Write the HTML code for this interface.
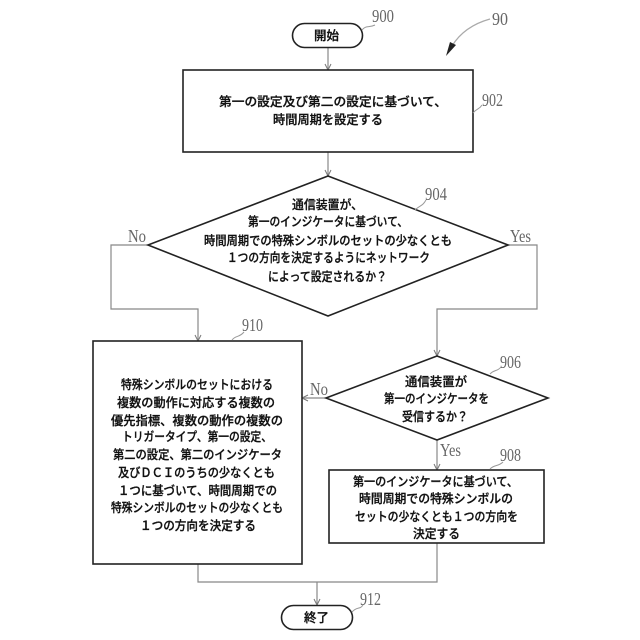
<!DOCTYPE html>
<html lang="ja">
<head>
<meta charset="utf-8">
<style>
html,body{margin:0;padding:0;background:#fff;width:640px;height:640px;overflow:hidden}
svg{display:block}
.t{font-family:"Liberation Sans","Noto Sans CJK JP",sans-serif;font-size:12.5px;font-weight:500;fill:#111;stroke:#111;stroke-width:.3}
.n{font-family:"Liberation Serif",serif;font-size:18px;fill:#666}
.box{fill:#fff;stroke:#222;stroke-width:1.6}
.c{fill:none;stroke:#888;stroke-width:1.2}
.a{fill:none;stroke:#777;stroke-width:1}
.s{fill:none;stroke:#999;stroke-width:1}
</style>
</head>
<body>
<svg width="640" height="640" viewBox="0 0 640 640" xmlns="http://www.w3.org/2000/svg">
<!-- connectors -->
<path class="c" d="M328 47V70M328 152V176M508 245H537V309H437V356M148 245H111V309H198V341M326 398H302M437 440V470M198 564V582H437V543M317 582V605"/>
<path class="a" d="M325 64L328 70L331 64M325 170L328 176L331 170M434 350L437 356L440 350M195 335L198 341L201 335M308 395L302 398L308 401M434 464L437 470L440 464M314 599L317 605L320 599"/>
<!-- shapes -->
<rect class="box" x="292.500" y="23.500" width="70" height="24" rx="12"/>
<rect class="box" x="183" y="70" width="290" height="82"/>
<polygon class="box" points="328,176 508,245 328,316 148,245"/>
<rect class="box" x="93" y="341" width="209" height="223"/>
<polygon class="box" points="437,356 548,398 437,440 326,398"/>
<rect class="box" x="329" y="470" width="215" height="73"/>
<rect class="box" x="281.500" y="605.500" width="71" height="24" rx="12"/>
<!-- leader lines -->
<path class="s" d="M362 30C366 25 369 28 375 25M473 113C477 108 479 110 482 105M415 210C420 205 422 207 426 200M490 374C495 369 497 372 501 367M490 469C495 464 498 467 503 462M232 340C236 335 239 338 244 332M352 612C357 606 360 610 363 605"/>
<path d="M490 19C472 24 460 33 452 46" fill="none" stroke="#aaa" stroke-width="1.2"/>
<polygon points="446,56 450,42 456,45" fill="#222"/>
<!-- reference numbers -->
<text class="n" x="372" y="22" textLength="22" lengthAdjust="spacingAndGlyphs">900</text>
<text class="n" x="492" y="25" textLength="16" lengthAdjust="spacingAndGlyphs">90</text>
<text class="n" x="482" y="106" textLength="21" lengthAdjust="spacingAndGlyphs">902</text>
<text class="n" x="425" y="200" textLength="22" lengthAdjust="spacingAndGlyphs">904</text>
<text class="n" x="500" y="368" textLength="21" lengthAdjust="spacingAndGlyphs">906</text>
<text class="n" x="500" y="461" textLength="21" lengthAdjust="spacingAndGlyphs">908</text>
<text class="n" x="242" y="331" textLength="21" lengthAdjust="spacingAndGlyphs">910</text>
<text class="n" x="360" y="605" textLength="21" lengthAdjust="spacingAndGlyphs">912</text>
<text class="n" x="128" y="242" textLength="18" lengthAdjust="spacingAndGlyphs">No</text>
<text class="n" x="510" y="242" textLength="21" lengthAdjust="spacingAndGlyphs">Yes</text>
<text class="n" x="310" y="395" textLength="18" lengthAdjust="spacingAndGlyphs">No</text>
<text class="n" x="440" y="456" textLength="21" lengthAdjust="spacingAndGlyphs">Yes</text>
<!-- start / end -->
<text class="t" x="314" y="40" textLength="25" lengthAdjust="spacingAndGlyphs">開始</text>
<text class="t" x="304" y="622" textLength="25" lengthAdjust="spacingAndGlyphs">終了</text>
<!-- 902 -->
<text class="t" x="219" y="106" textLength="228" lengthAdjust="spacingAndGlyphs">第一の設定及び第二の設定に基づいて、</text>
<text class="t" x="273" y="124" textLength="110" lengthAdjust="spacingAndGlyphs">時間周期を設定する</text>
<!-- 904 -->
<text class="t" x="292" y="209" textLength="71" lengthAdjust="spacingAndGlyphs">通信装置が、</text>
<text class="t" x="248" y="226" textLength="160" lengthAdjust="spacingAndGlyphs">第一のインジケータに基づいて、</text>
<text class="t" x="204" y="245" textLength="248" lengthAdjust="spacingAndGlyphs">時間周期での特殊シンボルのセットの少なくとも</text>
<text class="t" x="227" y="262" textLength="203" lengthAdjust="spacingAndGlyphs">１つの方向を決定するようにネットワーク</text>
<text class="t" x="268" y="281" textLength="119" lengthAdjust="spacingAndGlyphs">によって設定されるか？</text>
<!-- 910 -->
<text class="t" x="121" y="389" textLength="152" lengthAdjust="spacingAndGlyphs">特殊シンボルのセットにおける</text>
<text class="t" x="117" y="407" textLength="158" lengthAdjust="spacingAndGlyphs">複数の動作に対応する複数の</text>
<text class="t" x="111" y="425" textLength="172" lengthAdjust="spacingAndGlyphs">優先指標、複数の動作の複数の</text>
<text class="t" x="122" y="441" textLength="150" lengthAdjust="spacingAndGlyphs">トリガータイプ、第一の設定、</text>
<text class="t" x="113" y="459" textLength="169" lengthAdjust="spacingAndGlyphs">第二の設定、第二のインジケータ</text>
<text class="t" x="118" y="477" textLength="157" lengthAdjust="spacingAndGlyphs">及びＤＣＩのうちの少なくとも</text>
<text class="t" x="118" y="495" textLength="159" lengthAdjust="spacingAndGlyphs">１つに基づいて、時間周期での</text>
<text class="t" x="111" y="512" textLength="172" lengthAdjust="spacingAndGlyphs">特殊シンボルのセットの少なくとも</text>
<text class="t" x="140" y="530" textLength="116" lengthAdjust="spacingAndGlyphs">１つの方向を決定する</text>
<!-- 906 -->
<text class="t" x="405" y="386" textLength="62" lengthAdjust="spacingAndGlyphs">通信装置が</text>
<text class="t" x="384" y="403" textLength="105" lengthAdjust="spacingAndGlyphs">第一のインジケータを</text>
<text class="t" x="402" y="421" textLength="66" lengthAdjust="spacingAndGlyphs">受信するか？</text>
<!-- 908 -->
<text class="t" x="353" y="486" textLength="165" lengthAdjust="spacingAndGlyphs">第一のインジケータに基づいて、</text>
<text class="t" x="359" y="503" textLength="154" lengthAdjust="spacingAndGlyphs">時間周期での特殊シンボルの</text>
<text class="t" x="355" y="521" textLength="163" lengthAdjust="spacingAndGlyphs">セットの少なくとも１つの方向を</text>
<text class="t" x="413" y="538" textLength="47" lengthAdjust="spacingAndGlyphs">決定する</text>
</svg>
</body>
</html>
